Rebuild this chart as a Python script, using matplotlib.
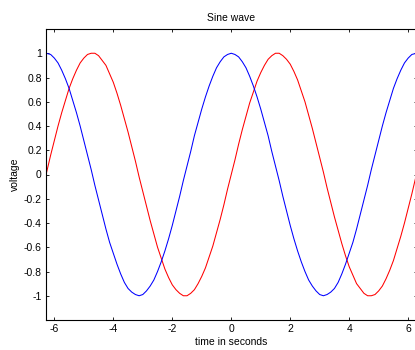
import numpy as np
import matplotlib.pyplot as plt

plt.rcParams['font.family'] = ['Liberation Sans', 'DejaVu Sans']
plt.rcParams['font.size'] = 7.5

# time samples (seconds) and the two traces
t = [-6.28, -6.125, -6.0, -5.875, -5.75, -5.625, -5.5, -5.375, -5.25, -5.125,
     -5.0, -4.875, -4.75, -4.625, -4.5, -4.375, -4.25, -4.125, -4.0, -3.875,
     -3.75, -3.625, -3.5, -3.375, -3.25, -3.125, -3.0, -2.875, -2.75, -2.625,
     -2.5, -2.375, -2.25, -2.125, -2.0, -1.875, -1.75, -1.625, -1.5, -1.375,
     -1.25, -1.125, -1.0, -0.875, -0.75, -0.625, -0.5, -0.375, -0.25, -0.125,
     0.0, 0.125, 0.25, 0.375, 0.5, 0.625, 0.75, 0.875, 1.0, 1.125,
     1.25, 1.375, 1.5, 1.625, 1.75, 1.875, 2.0, 2.125, 2.25, 2.375,
     2.5, 2.625, 2.75, 2.875, 3.0, 3.125, 3.25, 3.375, 3.5, 3.625,
     3.75, 3.875, 4.0, 4.125, 4.25, 4.375, 4.5, 4.625, 4.75, 4.875,
     5.0, 5.125, 5.25, 5.375, 5.5, 5.625, 5.75, 5.875, 6.0, 6.125, 6.28]
red_v = [0.00, 0.16, 0.28, 0.40, 0.51, 0.61, 0.71, 0.79, 0.86, 0.92,
         0.96, 0.99, 1.00, 1.00, 0.98, 0.94, 0.90, 0.83, 0.76, 0.67,
         0.57, 0.46, 0.35, 0.23, 0.11, -0.02, -0.14, -0.26, -0.38, -0.49,
         -0.60, -0.69, -0.78, -0.85, -0.91, -0.95, -0.98, -1.00, -1.00, -0.98,
         -0.95, -0.90, -0.84, -0.77, -0.68, -0.59, -0.48, -0.37, -0.25, -0.12,
         0.00, 0.12, 0.25, 0.37, 0.48, 0.59, 0.68, 0.77, 0.84, 0.90,
         0.95, 0.98, 1.00, 1.00, 0.98, 0.95, 0.91, 0.85, 0.78, 0.69,
         0.60, 0.49, 0.38, 0.26, 0.14, 0.02, -0.11, -0.23, -0.35, -0.46,
         -0.57, -0.67, -0.76, -0.83, -0.90, -0.94, -0.98, -1.00, -1.00, -0.99,
         -0.96, -0.92, -0.86, -0.79, -0.71, -0.61, -0.51, -0.40, -0.28, -0.16, 0.00]
blue_v = [1.00, 0.99, 0.96, 0.92, 0.86, 0.79, 0.71, 0.61, 0.51, 0.40,
          0.28, 0.16, 0.04, -0.09, -0.21, -0.33, -0.45, -0.56, -0.65, -0.74,
          -0.82, -0.89, -0.94, -0.97, -0.99, -1.00, -0.99, -0.96, -0.92, -0.87,
          -0.80, -0.72, -0.63, -0.53, -0.42, -0.30, -0.18, -0.05, 0.07, 0.19,
          0.32, 0.43, 0.54, 0.64, 0.73, 0.81, 0.88, 0.93, 0.97, 0.99,
          1.00, 0.99, 0.97, 0.93, 0.88, 0.81, 0.73, 0.64, 0.54, 0.43,
          0.32, 0.19, 0.07, -0.05, -0.18, -0.30, -0.42, -0.53, -0.63, -0.72,
          -0.80, -0.87, -0.92, -0.96, -0.99, -1.00, -0.99, -0.97, -0.94, -0.89,
          -0.82, -0.74, -0.65, -0.56, -0.45, -0.33, -0.21, -0.09, 0.04, 0.16,
          0.28, 0.40, 0.51, 0.61, 0.71, 0.79, 0.86, 0.92, 0.96, 0.99, 1.00]
xticks = [-6, -4, -2, 0, 2, 4, 6]
yticks = [-1, -0.8, -0.6, -0.4, -0.2, 0, 0.2, 0.4, 0.6, 0.8, 1]

W, H = 415, 350
fig = plt.figure(figsize=(W / 100, H / 100), dpi=100)
ax = fig.add_axes([46 / W, (H - 320) / H, (416.5 - 46) / W, (320 - 29) / H])

ax.plot(t, red_v, color='red', lw=0.75)
ax.plot(t, blue_v, color='blue', lw=0.75)

ax.set_xlim(-6.283, 6.283)
ax.set_ylim(-1.2, 1.2)
ax.set_xticks(xticks)
ax.set_xticklabels([str(v) for v in xticks])
ax.set_yticks(yticks)
ax.set_yticklabels(['%g' % v for v in yticks])
ax.tick_params(direction='in', length=2.5, width=0.6, top=True, right=True, pad=3)
for s in ax.spines.values():
    s.set_linewidth(0.8)

ax.set_title('Sine wave', fontsize=7.5, pad=6)
ax.set_xlabel('time in seconds', labelpad=2)
ax.set_ylabel('voltage', labelpad=3)

fig.savefig('out.png', dpi=100)
